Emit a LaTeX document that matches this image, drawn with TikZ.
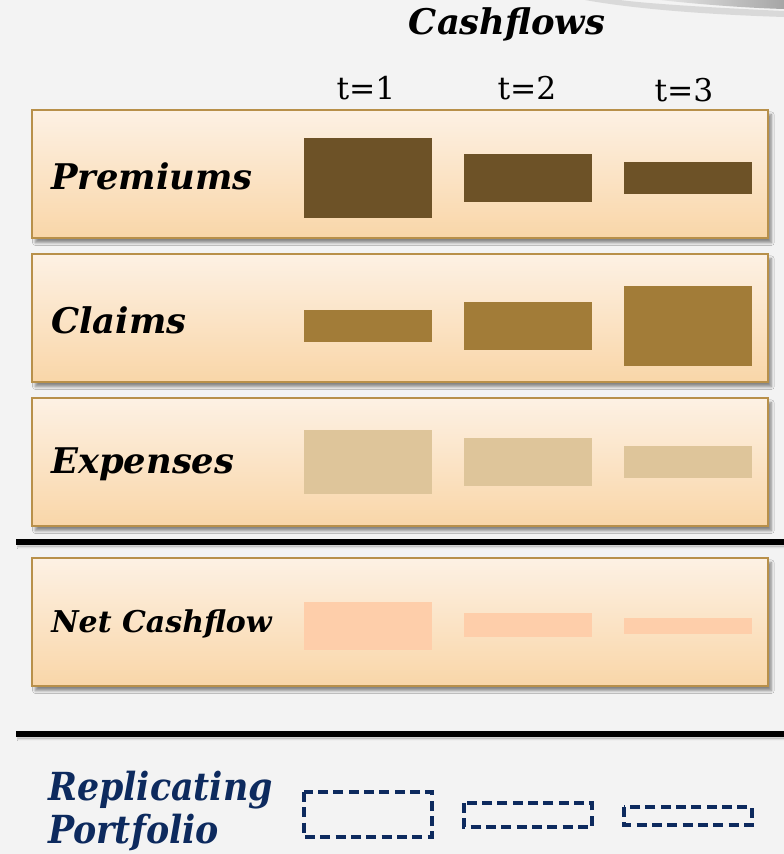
\documentclass[tikz,border=0pt]{standalone}
\usepackage{fontspec}
\setmainfont{DejaVu Serif}
\newfontfamily\condserif{DejaVu Serif Condensed}
\usetikzlibrary{shadows,shadows.blur}
\definecolor{pagebg}{HTML}{F3F3F3}
\definecolor{boxedge}{HTML}{B8904A}
\definecolor{boxtop}{HTML}{FDF1E4}
\definecolor{boxbot}{HTML}{F9D6A8}
\definecolor{premcol}{HTML}{6D5227}
\definecolor{claimcol}{HTML}{A27C38}
\definecolor{expcol}{HTML}{DEC59A}
\definecolor{netcol}{HTML}{FECEAA}
\definecolor{navy}{HTML}{0D2A5E}
\tikzset{
  rowbox/.style={draw=boxedge, line width=1.8pt, top color=boxtop, bottom color=boxbot,
    blur shadow={shadow xshift=2.5pt, shadow yshift=-3.5pt, shadow blur steps=6, shadow opacity=45}},
  rule/.style={line width=4pt, black,
    blur shadow={shadow xshift=1pt, shadow yshift=-3pt, shadow blur steps=5, shadow opacity=35}},
  rowlabel/.style={anchor=west, inner sep=0pt, font=\fontsize{26.5}{29}\selectfont\bfseries\itshape},
  tlabel/.style={inner sep=0pt, font=\fontsize{23.5}{26}\selectfont},
  repl/.style={draw=navy, line width=3pt, dash pattern=on 7.5pt off 4pt}
}
\begin{document}
\begin{tikzpicture}[x=0.75pt, y=-0.75pt]
  % page
  \fill[pagebg] (0,0) rectangle (784,854);
  \useasboundingbox (0,0) rectangle (784,854);

  % swoosh in the top right corner
  \fill[gray!30] (585,0) .. controls (640,10) and (720,15) .. (784,17) -- (784,11)
        .. controls (720,8) and (650,4) .. (620,0) -- cycle;
  \shade[left color=gray!20, right color=gray!70] (660,0) .. controls (705,5) and (750,8) .. (784,9)
        -- (784,0) -- cycle;

  % heading
  \node[inner sep=0pt, font=\fontsize{26.5}{30}\selectfont\bfseries\itshape] (head) at (507,24) {Cashflows};
  \node[tlabel] (t1) at (366,88) {t=1};
  \node[tlabel] (t2) at (527,88) {t=2};
  \node[tlabel] (t3) at (684,90) {t=3};

  % row panels
  \path[rowbox] (32,110) rectangle (768,238);
  \path[rowbox] (32,254) rectangle (768,382);
  \path[rowbox] (32,398) rectangle (768,526);
  \path[rowbox] (32,558) rectangle (768,686);

  % separating rules
  \draw[rule] (16,542) -- (784,542);
  \draw[rule] (16,734) -- (784,734);

  % row labels
  \node[rowlabel] (prem) at (51,176) {Premiums};
  \node[rowlabel] (claim) at (51,320) {Claims};
  \node[rowlabel] (exp) at (51,464) {Expenses};
  \node[rowlabel, font=\fontsize{22.5}{26}\selectfont\bfseries\itshape] (net) at (51,624) {Net Cashflow};

  % premiums
  \fill[premcol] (304,138) rectangle (432,218);
  \fill[premcol] (464,154) rectangle (592,202);
  \fill[premcol] (624,162) rectangle (752,194);
  % claims
  \fill[claimcol] (304,310) rectangle (432,342);
  \fill[claimcol] (464,302) rectangle (592,350);
  \fill[claimcol] (624,286) rectangle (752,366);
  % expenses
  \fill[expcol] (304,430) rectangle (432,494);
  \fill[expcol] (464,438) rectangle (592,486);
  \fill[expcol] (624,446) rectangle (752,478);
  % net cashflow
  \fill[netcol] (304,602) rectangle (432,650);
  \fill[netcol] (464,613) rectangle (592,637);
  \fill[netcol] (624,618) rectangle (752,634);

  % replicating portfolio
  \node[anchor=west, inner sep=0pt, text=navy,
        font=\condserif\fontsize{29}{32}\selectfont\bfseries\itshape] (rep1) at (48,790) {Replicating};
  \node[anchor=west, inner sep=0pt, text=navy,
        font=\condserif\fontsize{29}{32}\selectfont\bfseries\itshape] (rep2) at (48,832) {Portfolio};
  \draw[repl] (304,792) rectangle (432,837);
  \draw[repl] (464,803) rectangle (592,827);
  \draw[repl] (624,807) rectangle (752,825);
\end{tikzpicture}
\end{document}
